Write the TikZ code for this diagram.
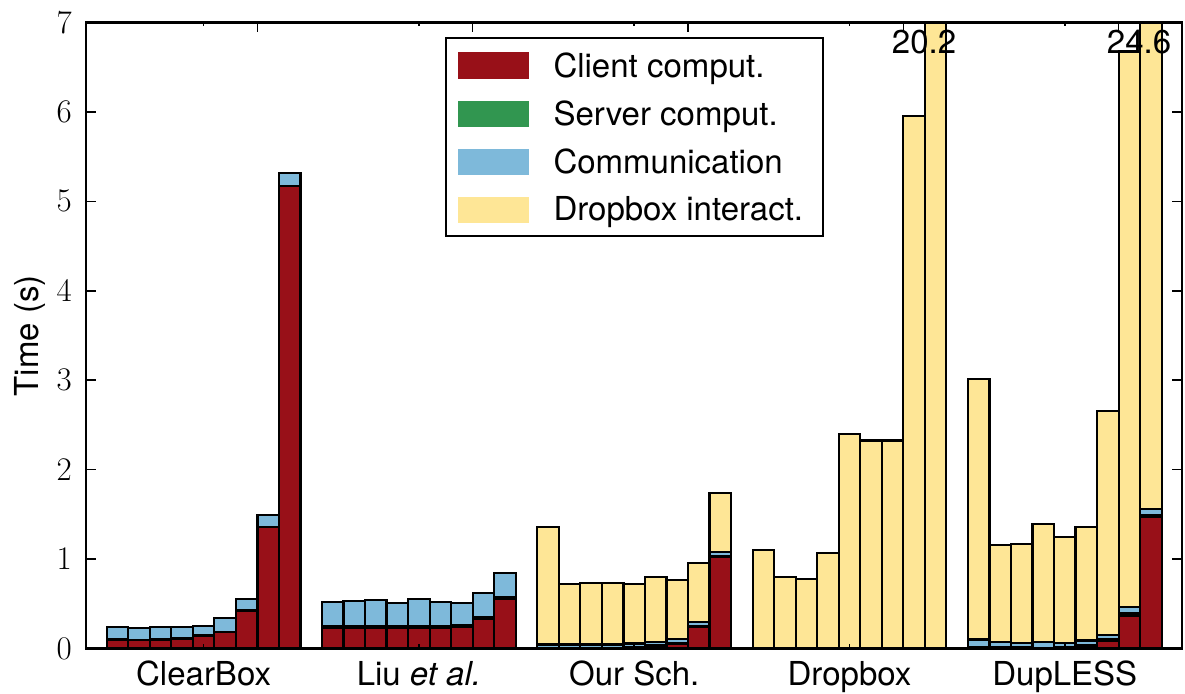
\documentclass[tikz,border=0pt]{standalone}
\usepackage{fontspec}
\newfontfamily\hv{TeX Gyre Heros}
\definecolor{cred}{RGB}{152,16,24}
\definecolor{cgreen}{RGB}{49,150,80}
\definecolor{cblue}{RGB}{126,185,218}
\definecolor{cyel}{RGB}{254,230,150}
\tikzset{
  barline/.style={draw=black, line width=2.2pt},
  frameline/.style={draw=black, line width=2.3pt},
  tickline/.style={draw=black, line width=1.5pt},
  lbl/.style={font=\hv\fontsize{33}{40}\selectfont, inner sep=0pt},
  ticklbl/.style={font=\fontsize{33}{40}\selectfont, inner sep=0pt},
  legpatch/.style={draw=none}
}
\begin{document}
\begin{tikzpicture}[x=1pt,y=1pt]
\useasboundingbox (0,0) rectangle (1185,693);
\begin{scope}[x=21.53pt,y=89.43pt,shift={(106.7pt,44.5pt)}]
  % bars
  \begin{scope}
    \clip (-0.9616,0) rectangle (49.93,7);
    \foreach \ka/\vr/\vg/\vb/\vt in {
      0/0.095/0.100/0.237/0.237, 1/0.092/0.097/0.226/0.226, 2/0.095/0.100/0.237/0.237,
      3/0.106/0.111/0.244/0.244, 4/0.143/0.148/0.255/0.255, 5/0.181/0.186/0.337/0.337,
      6/0.419/0.424/0.553/0.553, 7/1.355/1.360/1.493/1.493, 8/5.170/5.175/5.320/5.320,
      10/0.225/0.245/0.517/0.517, 11/0.225/0.245/0.531/0.531, 12/0.225/0.250/0.542/0.542,
      13/0.225/0.245/0.512/0.512, 14/0.225/0.250/0.550/0.550, 15/0.225/0.245/0.520/0.520,
      16/0.240/0.260/0.505/0.505, 17/0.335/0.355/0.624/0.624, 18/0.550/0.570/0.848/0.848,
      20/0/0.002/0.045/1.362, 21/0/0.002/0.045/0.718, 22/0/0.002/0.045/0.729,
      23/0/0.002/0.045/0.729, 24/0.010/0.015/0.055/0.718, 25/0.020/0.035/0.076/0.803,
      26/0.050/0.065/0.106/0.766, 27/0.237/0.255/0.300/0.953, 28/1.020/1.035/1.083/1.736,
      30/0/0/0/1.100, 31/0/0/0/0.800, 32/0/0/0/0.777, 33/0/0/0/1.065, 34/0/0/0/2.395,
      35/0/0/0/2.325, 36/0/0/0/2.325, 37/0/0/0/5.956, 38/0/0/0/20.2,
      40/0.010/0.020/0.100/3.010, 41/0.010/0.015/0.073/1.158, 42/0.010/0.015/0.065/1.169,
      43/0.005/0.005/0.073/1.393, 44/0.010/0.015/0.065/1.250, 45/0.020/0.040/0.090/1.362,
      46/0.084/0.100/0.155/2.660, 47/0.370/0.392/0.462/6.675, 48/1.474/1.494/1.556/24.6}{
      \draw[barline, fill=cred] (\ka,0) rectangle (\ka+1,\vr);
      \draw[barline, fill=cgreen] (\ka,\vr) rectangle (\ka+1,\vg);
      \draw[barline, fill=cblue] (\ka,\vg) rectangle (\ka+1,\vb);
      \draw[barline, fill=cyel] (\ka,\vb) rectangle (\ka+1,\vt);
    }
  \end{scope}
  % y ticks and labels
  \foreach \i in {0,...,7}{
    \draw[tickline] (-0.9616,\i) -- ++(10pt,0);
    \draw[tickline] (49.93,\i) -- ++(-10pt,0);
    \node[ticklbl, anchor=east] (yl\i) at ([xshift=-14pt]-0.9616,\i) {\i};
  }
  % x ticks
  \foreach \g in {0,...,4}{
    \draw[tickline] (10*\g+4.5,7) -- ++(0,-4pt);
    \draw[tickline] (10*\g+4.5,0) -- ++(0,4pt);
    \draw[tickline] (10*\g+7,7) -- ++(0,-10pt);
    \draw[tickline] (10*\g+7,0) -- ++(0,10pt);
  }
  % frame
  \draw[frameline] (-0.9616,0) rectangle (49.93,7);
  % group labels
  \node[lbl, anchor=base] (g1) at ([yshift=-36.5pt]4.5,0) {ClearBox};
  \node[lbl, anchor=base] (g2) at ([yshift=-36.5pt]14.5,0) {Liu \textit{et al.}};
  \node[lbl, anchor=base] (g3) at ([yshift=-36.5pt]24.5,0) {Our Sch.};
  \node[lbl, anchor=base] (g4) at ([yshift=-36.5pt]34.5,0) {Dropbox};
  \node[lbl, anchor=base] (g5) at ([yshift=-36.5pt]44.5,0) {DupLESS};
\end{scope}
% value labels on clipped bars
\node[lbl, anchor=base] (v1) at (924,639.7) {20.2};
\node[lbl, anchor=base] (v2) at (1139,639.7) {24.6};
% axis title
\node[lbl, rotate=90] (ytitle) at (30,357) {Time (s)};
% legend
\draw[draw=black, line width=2pt, fill=white] (445.7,654.7) rectangle (822.9,457);
\fill[cred]   (458,614)   rectangle (529,640.7);
\fill[cgreen] (458,565.7) rectangle (529,592);
\fill[cblue]  (458,517.7) rectangle (529,544);
\fill[cyel]   (458,470.3) rectangle (529,496.3);
\node[lbl, anchor=base west] (l1) at (553.3,615.7) {Client comput.};
\node[lbl, anchor=base west] (l2) at (553.3,567.5) {Server comput.};
\node[lbl, anchor=base west] (l3) at (553.3,519.5) {Communication};
\node[lbl, anchor=base west] (l4) at (553.3,472) {Dropbox interact.};
\end{tikzpicture}
\end{document}
